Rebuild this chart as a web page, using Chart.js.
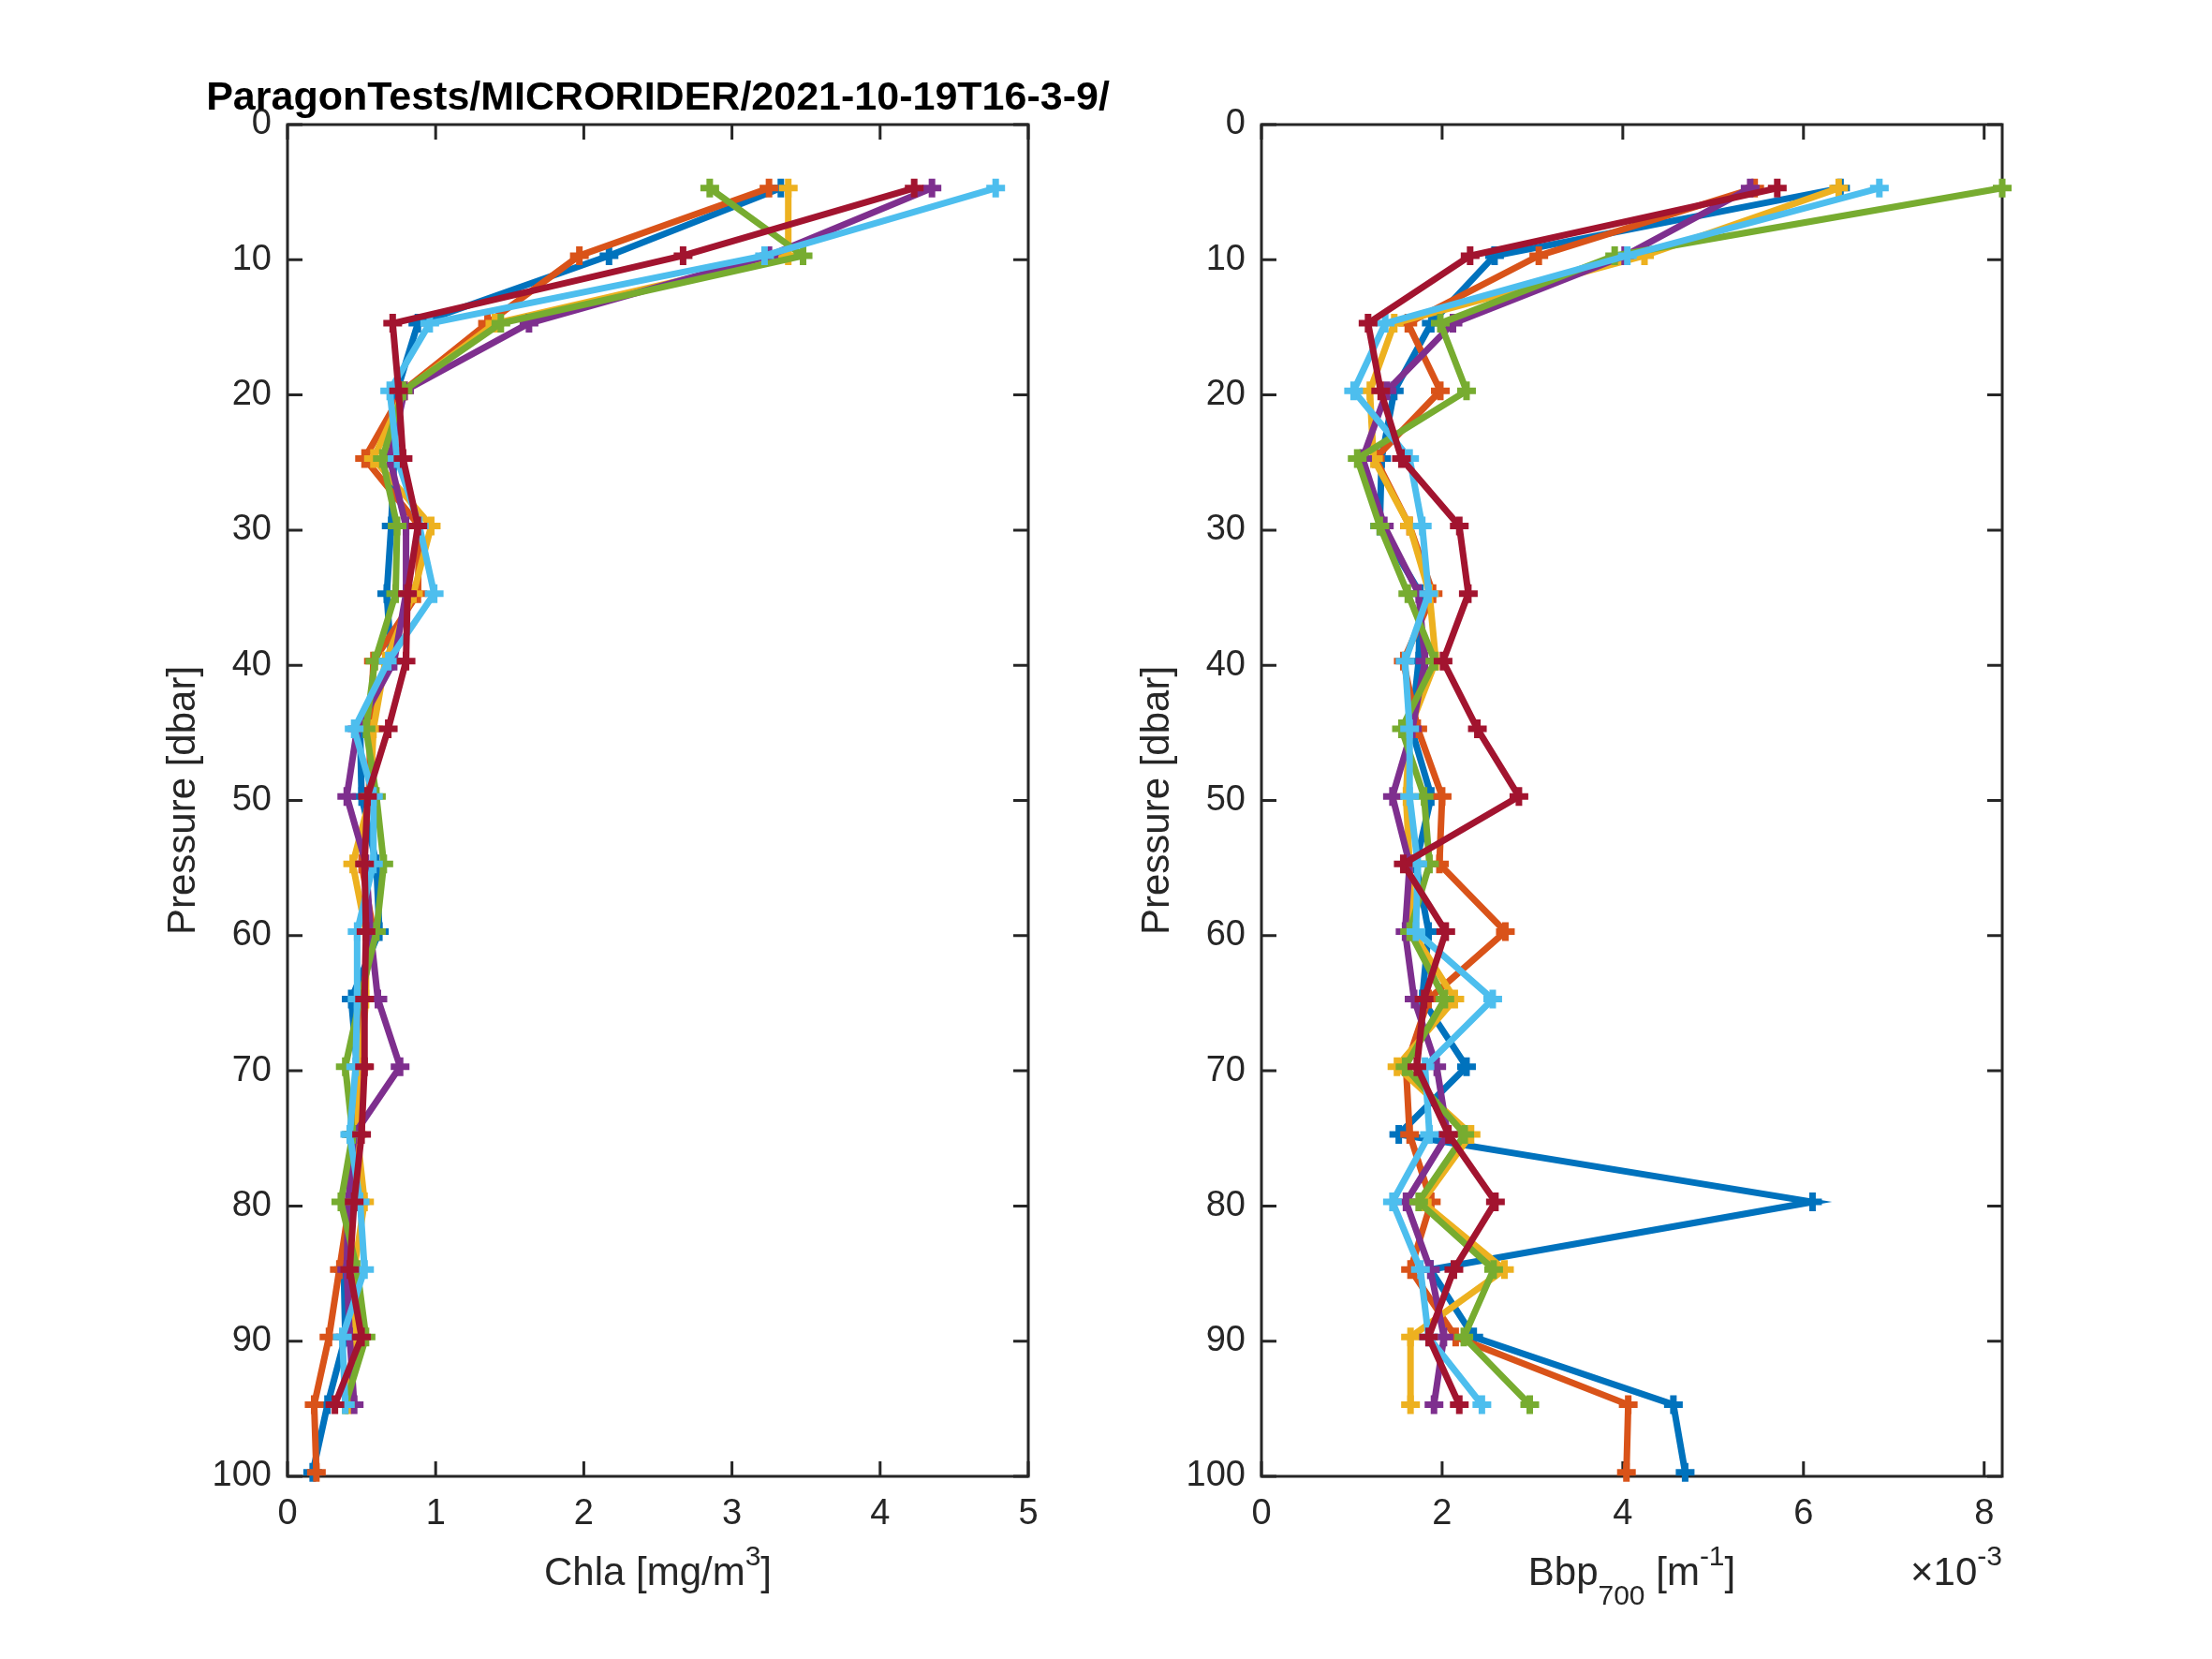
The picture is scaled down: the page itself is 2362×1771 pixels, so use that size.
<!DOCTYPE html>
<html>
<head>
<meta charset="utf-8">
<script src="https://cdn.jsdelivr.net/npm/chart.js@4.4.1/dist/chart.umd.min.js"></script>
<style>
  html, body { margin: 0; padding: 0; background: #fff; }
  #wrap { position: relative; width: 2362px; height: 1771px; }
  canvas { position: absolute; left: 0; top: 0; }
</style>
</head>
<body>
<div id="wrap">
  <canvas id="chlaChart" width="2362" height="1771"></canvas>
  <canvas id="bbpChart" width="2362" height="1771"></canvas>
</div>
<script>
// --- data ---
const pressure = [4.7, 9.7, 14.7, 19.7, 24.7, 29.7, 34.7, 39.7, 44.7, 49.7,
                  54.7, 59.7, 64.7, 69.7, 74.7, 79.7, 84.7, 89.7, 94.7, 99.7];

// Chla [mg/m3], one array per cast
const chla1 = [3.33, 2.17, 0.88, 0.74, 0.72, 0.70, 0.67, 0.70, 0.49, 0.50, 0.60, 0.62, 0.43, 0.47, 0.43, 0.43, 0.38, 0.39, 0.27, 0.17];
const chla2 = [3.25, 1.97, 1.35, 0.78, 0.52, 0.89, 0.88, 0.58, 0.56, 0.55, 0.50, 0.58, 0.50, 0.51, 0.46, 0.42, 0.35, 0.28, 0.18, 0.195];
const chla3 = [3.38, 3.38, 1.40, 0.79, 0.58, 0.97, 0.85, 0.66, 0.58, 0.56, 0.44, 0.53, 0.53, 0.49, 0.47, 0.52, 0.45, 0.45, 0.41];
const chla4 = [4.35, 3.25, 1.63, 0.79, 0.69, 0.80, 0.80, 0.72, 0.47, 0.40, 0.53, 0.56, 0.61, 0.76, 0.45, 0.41, 0.40, 0.42, 0.45];
const chla5 = [2.85, 3.48, 1.44, 0.78, 0.64, 0.74, 0.73, 0.59, 0.53, 0.60, 0.65, 0.60, 0.49, 0.39, 0.44, 0.36, 0.47, 0.53, 0.39];
const chla6 = [4.78, 3.22, 0.96, 0.69, 0.74, 0.89, 0.99, 0.68, 0.45, 0.58, 0.58, 0.47, 0.47, 0.46, 0.42, 0.49, 0.52, 0.37, 0.39];
const chla7 = [4.23, 2.67, 0.71, 0.75, 0.78, 0.88, 0.81, 0.80, 0.68, 0.54, 0.52, 0.53, 0.52, 0.52, 0.50, 0.45, 0.42, 0.50, 0.32];

// Bbp700 [m^-1], in units of 1e-3
const bbp1 = [6.41, 2.58, 1.88, 1.47, 1.33, 1.31, 1.76, 1.74, 1.66, 1.88, 1.71, 1.85, 1.78, 2.27, 1.52, 6.10, 1.87, 2.35, 4.56, 4.69];
const bbp2 = [5.46, 3.07, 1.62, 1.98, 1.26, 1.64, 1.90, 1.57, 1.73, 2.00, 1.97, 2.70, 1.85, 1.60, 1.64, 1.88, 1.65, 2.15, 4.06, 4.04];
const bbp3 = [6.39, 4.24, 1.47, 1.20, 1.24, 1.64, 1.86, 1.93, 1.64, 1.60, 1.64, 1.67, 2.14, 1.50, 2.32, 1.78, 2.69, 1.65, 1.65];
const bbp4 = [5.41, 4.02, 2.12, 1.39, 1.12, 1.36, 1.74, 1.81, 1.67, 1.45, 1.64, 1.59, 1.69, 1.94, 2.06, 1.60, 1.87, 2.02, 1.91];
const bbp5 = [8.20, 3.91, 1.98, 2.27, 1.06, 1.31, 1.62, 1.92, 1.55, 1.80, 1.86, 1.64, 2.03, 1.59, 2.25, 1.74, 2.57, 2.24, 2.97];
const bbp6 = [6.84, 4.05, 1.37, 1.02, 1.64, 1.78, 1.85, 1.59, 1.64, 1.64, 1.73, 1.71, 2.56, 1.81, 1.86, 1.45, 1.76, 1.85, 2.44];
const bbp7 = [5.71, 2.31, 1.18, 1.32, 1.55, 2.19, 2.29, 2.01, 2.39, 2.85, 1.57, 2.04, 1.80, 1.72, 2.07, 2.59, 2.13, 1.85, 2.19];

const pressureTicks = [0, 10, 20, 30, 40, 50, 60, 70, 80, 90, 100];
const chlaTicks = [0, 1, 2, 3, 4, 5];
const bbpTicks = [0, 2, 4, 6, 8];

// --- styling ---
const castColors = ["#0072BD", "#D95319", "#EDB120", "#7E2F8E", "#77AC30", "#4DBEEE", "#A2142F"];
const INK = "#262626";
const FONT = '"Liberation Sans", Arial, Helvetica, sans-serif';
const TICK_LEN = 16;
const AREA_TOP = 133, AREA_BOTTOM = 1576;

function makeDatasets(casts) {
  return casts.map((vals, i) => ({
    data: vals.map((v, k) => ({ x: v, y: pressure[k] })),
    showLine: true,
    order: casts.length - i, // last cast drawn on top, like matlab
    borderColor: castColors[i],
    backgroundColor: castColors[i],
    borderWidth: 7,
    pointStyle: "cross",
    pointRadius: 10,
    pointBorderWidth: 7,
    pointBorderColor: castColors[i],
    clip: false,
  }));
}

// draw text made of normal / superscript / subscript runs
function drawRich(ctx, parts, x, y, align) {
  const big = "42px " + FONT, small = "30px " + FONT;
  let total = 0;
  parts.forEach(p => { ctx.font = p[1] ? small : big; total += ctx.measureText(p[0]).width; });
  let cx = align === "right" ? x - total : align === "center" ? x - total / 2 : x;
  ctx.textAlign = "left";
  ctx.textBaseline = "alphabetic";
  parts.forEach(p => {
    ctx.font = p[1] ? small : big;
    const dy = p[1] === "sup" ? -21 : p[1] === "sub" ? 21 : 0;
    ctx.fillText(p[0], cx, y + dy);
    cx += ctx.measureText(p[0]).width;
  });
}

function decor(xTicks, opts) {
  return {
    id: "decor",
    beforeDatasetsDraw(chart) {
      const ctx = chart.ctx;
      const { left, right, top, bottom } = chart.chartArea;
      const xs = chart.scales.x, ys = chart.scales.y;
      ctx.save();
      ctx.strokeStyle = INK;
      ctx.lineWidth = 3;
      ctx.beginPath();
      xTicks.forEach(v => {
        const px = xs.getPixelForValue(v);
        ctx.moveTo(px, bottom); ctx.lineTo(px, bottom - TICK_LEN);
        ctx.moveTo(px, top); ctx.lineTo(px, top + TICK_LEN);
      });
      pressureTicks.forEach(v => {
        const py = ys.getPixelForValue(v);
        ctx.moveTo(left, py); ctx.lineTo(left + TICK_LEN, py);
        ctx.moveTo(right, py); ctx.lineTo(right - TICK_LEN, py);
      });
      ctx.stroke();
      ctx.strokeRect(left, top, right - left, bottom - top);
      ctx.restore();
    },
    afterDraw(chart) {
      const ctx = chart.ctx;
      const { left, right, top, bottom } = chart.chartArea;
      const mid = (left + right) / 2;
      ctx.save();
      ctx.fillStyle = INK;
      // y label
      ctx.save();
      ctx.translate(left - 99, (top + bottom) / 2);
      ctx.rotate(-Math.PI / 2);
      ctx.font = "42px " + FONT;
      ctx.textAlign = "center";
      ctx.textBaseline = "alphabetic";
      ctx.fillText("Pressure [dbar]", 0, 0);
      ctx.restore();
      // x label
      drawRich(ctx, opts.xLabel, mid, 1692, "center");
      if (opts.exponent) drawRich(ctx, opts.exponent, right, 1692, "right");
      if (opts.title) {
        ctx.fillStyle = "#000";
        ctx.font = "bold 43px " + FONT;
        ctx.textAlign = "center";
        ctx.textBaseline = "alphabetic";
        ctx.fillText(opts.title, mid, 117);
      }
      ctx.restore();
    },
  };
}

function makeChart(id, casts, xMax, xTicks, yWidth, rightPad, opts) {
  return new Chart(document.getElementById(id), {
    type: "scatter",
    data: { datasets: makeDatasets(casts) },
    options: {
      responsive: false,
      animation: false,
      devicePixelRatio: 1,
      events: [],
      layout: { padding: { top: AREA_TOP, right: rightPad, bottom: 0, left: 0 } },
      plugins: { legend: { display: false }, tooltip: { enabled: false } },
      scales: {
        x: {
          type: "linear",
          position: "bottom",
          min: 0,
          max: xMax,
          grid: { display: false, drawTicks: false },
          border: { display: false },
          ticks: { color: INK, font: { family: FONT, size: 38 }, padding: 18, autoSkip: false, maxRotation: 0 },
          afterBuildTicks: s => { s.ticks = xTicks.map(v => ({ value: v })); },
          afterFit: s => { s.height = 1771 - AREA_BOTTOM; },
        },
        y: {
          type: "linear",
          position: "left",
          reverse: true,
          min: 0,
          max: 100,
          grid: { display: false, drawTicks: false },
          border: { display: false },
          ticks: { color: INK, font: { family: FONT, size: 38 }, padding: 17, autoSkip: false },
          afterBuildTicks: s => { s.ticks = pressureTicks.map(v => ({ value: v })); },
          afterFit: s => { s.width = yWidth; },
        },
      },
    },
    plugins: [decor(xTicks, opts)],
  });
}

makeChart("chlaChart", [chla1, chla2, chla3, chla4, chla5, chla6, chla7], 5, chlaTicks, 307, 2362 - 1098, {
  title: "ParagonTests/MICRORIDER/2021-10-19T16-3-9/",
  xLabel: [["Chla [mg/m"], ["3", "sup"], ["]"]],
});

makeChart("bbpChart", [bbp1, bbp2, bbp3, bbp4, bbp5, bbp6, bbp7], 8.2, bbpTicks, 1347, 2362 - 2138, {
  xLabel: [["Bbp"], ["700", "sub"], [" [m"], ["-1", "sup"], ["]"]],
  exponent: [["\u00d710"], ["-3", "sup"]],
});
</script>
</body>
</html>
